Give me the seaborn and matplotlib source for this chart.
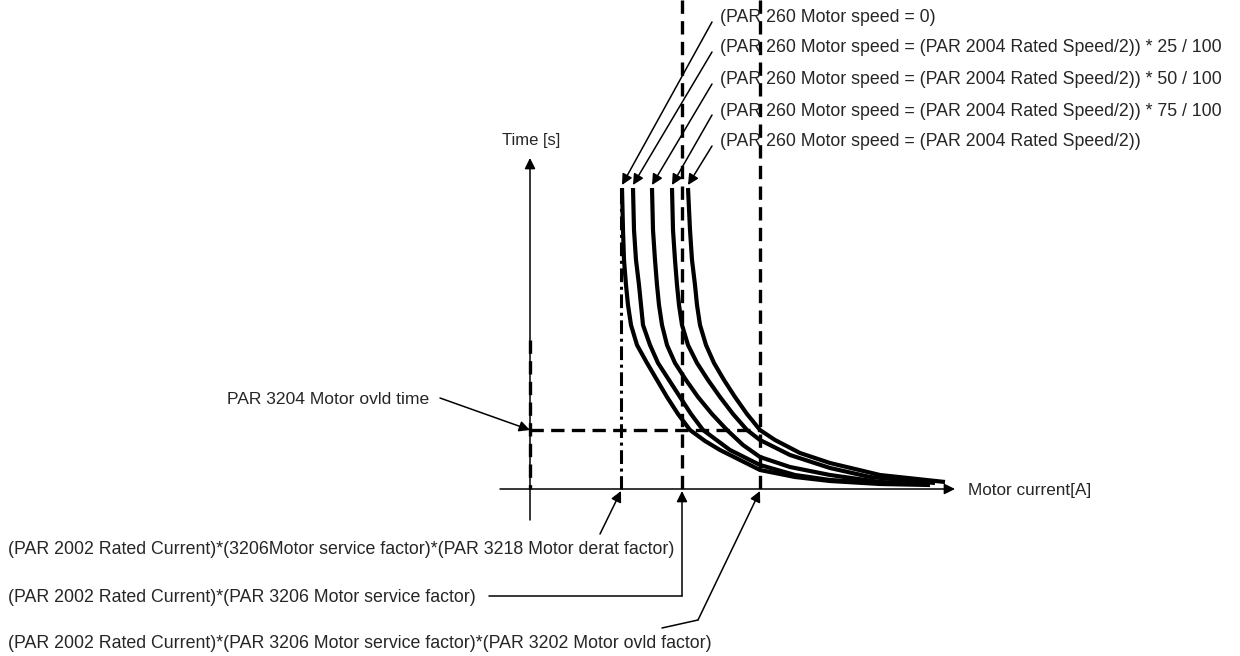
import pandas as pd
import seaborn as sns
from matplotlib import pyplot as plt

# trip curves, one per motor speed (pixel space)
curve_names = ["speed 0", "speed 25", "speed 50", "speed 75", "speed 100"]
curve_x = [
    [622, 623, 624, 626, 628, 631, 637, 647, 657, 667, 678, 690, 705, 720, 740, 760, 795, 830, 880, 930],
    [633, 634, 636, 639, 641, 643, 650, 658, 669, 680, 691, 703, 730, 760, 795, 830, 880, 930],
    [652, 653, 655, 657, 659, 662, 667, 675, 686, 698, 712, 727, 743, 760, 790, 830, 880, 930],
    [672, 673, 675, 677, 679, 682, 688, 697, 708, 720, 733, 747, 760, 790, 830, 870, 935],
    [688, 690, 692, 695, 697, 700, 706, 714, 724, 735, 747, 760, 775, 800, 830, 880, 945],
]
curve_y = [
    [188, 230, 260, 285, 305, 325, 345, 363, 380, 397, 414, 430, 441, 450, 460, 470, 477, 481, 484, 485],
    [188, 230, 260, 285, 305, 325, 345, 363, 380, 397, 414, 430, 450, 465, 475, 480, 483, 484],
    [188, 230, 260, 285, 305, 325, 345, 363, 380, 397, 414, 430, 445, 457, 467, 475, 482, 484],
    [188, 230, 260, 285, 305, 325, 345, 363, 380, 397, 414, 430, 440, 455, 468, 477, 483],
    [188, 230, 260, 285, 305, 325, 345, 363, 380, 397, 414, 430, 440, 453, 463, 475, 482],
]

speed_labels = [
    "(PAR 260 Motor speed = 0)",
    "(PAR 260 Motor speed = (PAR 2004 Rated Speed/2)) * 25 / 100",
    "(PAR 260 Motor speed = (PAR 2004 Rated Speed/2)) * 50 / 100",
    "(PAR 260 Motor speed = (PAR 2004 Rated Speed/2)) * 75 / 100",
    "(PAR 260 Motor speed = (PAR 2004 Rated Speed/2))",
]
current_labels = [
    "(PAR 2002 Rated Current)*(3206Motor service factor)*(PAR 3218 Motor derat factor)",
    "(PAR 2002 Rated Current)*(PAR 3206 Motor service factor)",
    "(PAR 2002 Rated Current)*(PAR 3206 Motor service factor)*(PAR 3202 Motor ovld factor)",
]

# reference levels on the current axis and the ovld time level
axis_x, axis_y = 530, 489
derat_x, service_x, ovld_x = 621, 682, 760
ovld_time_y = 430

sns.set_style("white")
plt.rcParams["font.family"] = ["Liberation Sans", "DejaVu Sans"]

fig = plt.figure(figsize=(12.4, 6.56), dpi=100)
ax = fig.add_axes([0, 0, 1, 1])

arrow = dict(arrowstyle="-|>", color="black", lw=1.1, mutation_scale=16,
             shrinkA=0, shrinkB=0)

# trip curves
df = pd.concat([
    pd.DataFrame({"curve": n, "current": cx, "time": cy})
    for n, cx, cy in zip(curve_names, curve_x, curve_y)
])
sns.lineplot(data=df, x="current", y="time", units="curve", estimator=None,
             sort=False, color="black", lw=3.0, ax=ax, legend=False,
             solid_joinstyle="round", solid_capstyle="butt")
ax.set_xlim(0, 1240)
ax.set_ylim(656, 0)
ax.axis("off")

# axes
ax.annotate("", xy=(axis_x, 158), xytext=(axis_x, 520), arrowprops=arrow)
ax.annotate("", xy=(955, axis_y), xytext=(500, axis_y), arrowprops=arrow)
ax.text(531, 141, "Time [s]", fontsize=12, ha="center", va="center")
ax.text(968, 491, "Motor current[A]", fontsize=12.3, ha="left", va="center")

# reference lines
dash = (0, (4, 2.2))
ax.plot([axis_x, axis_x], [340, axis_y], color="black", lw=2.4, ls=dash)
ax.plot([service_x, service_x], [0, axis_y], color="black", lw=2.4, ls=dash)
ax.plot([ovld_x, ovld_x], [0, axis_y], color="black", lw=2.4, ls=dash)
ax.plot([axis_x, ovld_x], [ovld_time_y, ovld_time_y], color="black", lw=2.4, ls=dash)
ax.plot([derat_x, derat_x], [190, axis_y], color="black", lw=2.2,
        ls=(0, (4.5, 1.5, 1, 1.5)))

# speed callouts
label_y = [18, 48, 80, 111, 142]
for lab, ly, cx in zip(speed_labels, label_y, curve_x):
    ax.text(720, ly, lab, fontsize=12.8, ha="left", va="center")
    ax.annotate("", xy=(cx[0], 185), xytext=(712, ly + 4), arrowprops=arrow)

# ovld time callout
ax.text(227, 399, "PAR 3204 Motor ovld time", fontsize=12.6, ha="left", va="center")
ax.annotate("", xy=(axis_x, ovld_time_y), xytext=(440, 398), arrowprops=arrow)

# current callouts
fs = 12.8
ax.text(8, 550, current_labels[0], fontsize=fs, ha="left", va="center")
ax.annotate("", xy=(derat_x, 491), xytext=(600, 534), arrowprops=arrow)

ax.text(8, 597, current_labels[1], fontsize=fs, ha="left", va="center")
ax.plot([489, service_x], [596, 596], color="black", lw=1.1)
ax.annotate("", xy=(service_x, 491), xytext=(service_x, 596), arrowprops=arrow)

ax.text(8, 643, current_labels[2], fontsize=fs, ha="left", va="center")
ax.plot([662, 698], [628, 620], color="black", lw=1.1)
ax.annotate("", xy=(ovld_x, 491), xytext=(698, 620), arrowprops=arrow)

fig.savefig("out.png", dpi=100)
